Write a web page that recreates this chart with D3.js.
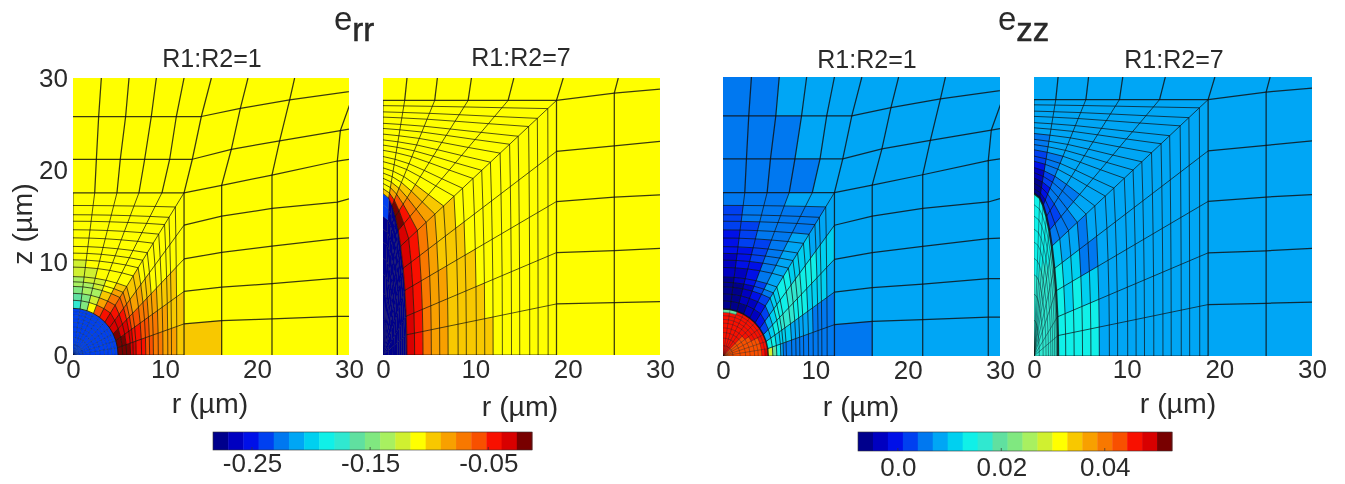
<!DOCTYPE html>
<html><head><meta charset="utf-8">
<script src="https://cdnjs.cloudflare.com/ajax/libs/d3/7.8.5/d3.min.js"></script>
<style>
html,body{margin:0;padding:0;background:#fff}
svg{display:block;filter:blur(0.6px)}
text{font-family:"Liberation Sans",Arial,sans-serif;fill:#2a2a2a}
</style></head><body><svg id="c" width="1345" height="484"></svg>
<script>
// ---------- colour bands ----------
const jetBands=["#00008c","#0000c0","#0010e8","#0040f0","#0078f0","#00a6f5","#00d0f0","#10f0e8","#30e8d0","#60e0a0","#80e880","#a8f060","#d0f030","#ffff00","#f8c800","#f8a000","#f87800","#f85000","#f81000","#d80000","#780000"];
const errDomain=[-0.283,-0.013];
const ezzDomain=[-0.0077,0.053];
const errTicks=[-0.25,-0.15,-0.05];
const ezzTicks=[0.0,0.02,0.04];
const errTickLabels=["-0.25","-0.15","-0.05"];
const ezzTickLabels=["0.0","0.02","0.04"];
const axisTicks=[0,10,20,30];
const panelTitles=["R1:R2=1","R1:R2=7","R1:R2=1","R1:R2=7"];

// ---------- mesh R1:R2=1 (µm) ----------
const m1Semi=[4.9,5.05];
const m1ArcDeg=[0,9,18,27,36,45,54,63,72,81,90];
const m1RingFrac=[0,.07,.13,.19,.23,.275,.357,.42,.478,.536,.61,.68,.754,.81,.89,1];
const m1Square=[[12.07,0],[12.07,3.37],[12.07,6.88],[12.07,10.4],[12.07,14.06],[12.07,17.57],[9.67,17.57],[7.17,17.57],[4.78,17.57],[2.36,17.57],[0,17.57]];
// columns of nodes right of the block, bottom to top
const m1Right=[
 [[12.07,0],[12.07,3.37],[12.07,6.88],[12.07,10.4],[12.07,14.06],[12.07,17.57],[12.97,21.2],[13.95,25.83],[15.04,30]],
 [[16.16,0],[16.16,3.73],[16.16,7.36],[16.16,11.12],[16.16,15.04],[16.16,18.37],[17.21,22.28],[18.19,26.7],[19.02,30]],
 [[21.63,0],[21.63,3.91],[21.63,7.72],[21.63,11.78],[21.63,15.87],[21.63,19.49],[22.46,23.19],[23.55,27.64],[24.09,30]],
 [[28.73,0],[28.73,4.17],[28.73,8.33],[28.73,12.61],[28.73,16.56],[28.73,21.01],[29.06,24.3],[30.62,28.62],[31.2,30.6]],
 [[30,0],[30,4.17],[30,8.33],[30,12.68],[30,16.92],[30,21.2],[30,24.46],[30,28.73],[31.2,30.6]]
];
// columns of nodes above the block, left to right
const m1Top=[
 [[0,17.57],[0,21.2],[0,25.83],[0,30]],
 [[2.36,17.57],[2.54,21.2],[2.79,25.83],[3.08,30]],
 [[4.78,17.57],[5.14,21.2],[5.72,25.83],[6.09,30]],
 [[7.17,17.57],[7.79,21.2],[8.51,25.83],[9.06,30]],
 [[9.67,17.57],[10.51,21.2],[11.23,25.83],[12.07,30]],
 [[12.07,17.57],[12.97,21.2],[13.95,25.83],[15.04,30]]
];

// ---------- mesh R1:R2=7 (µm) ----------
const m2Semi=[2.6,17.5];
const m2ArcDeg=[0,7.2,13.9,23.6,32.5,42.4,50.5,59,67.8,76.3,90];
const m2RingFrac=[0,.051,.107,.163,.219,.275,.342,.397,.464,.52,.576,.638,.699,.754,.821,.877,.944,1];
const m2Square=[[18.79,0],[18.79,5.53],[18.79,11.09],[18.79,16.62],[18.79,22.05],[18.79,27.57],[13.55,27.57],[9.22,27.57],[5.6,27.57],[2.35,27.57],[0,27.57]];
const m2Right=[
 [[18.79,0],[18.79,5.53],[18.79,11.09],[18.79,16.62],[18.79,22.05],[18.79,27.57],[19.52,30]],
 [[25.05,0],[25.05,5.67],[25.05,11.31],[25.05,17.09],[25.05,22.66],[25.05,28.37],[25.48,30]],
 [[30,0],[30,5.78],[30,11.56],[30,17.35],[30,23.13],[30,28.8],[30,30]]
];
const m2Top=[
 [[0,27.57],[0,30]],
 [[2.35,27.57],[2.6,30]],
 [[5.6,27.57],[5.89,30]],
 [[9.22,27.57],[9.58,30]],
 [[13.55,27.57],[14.17,30]],
 [[18.79,27.57],[19.52,30]]
];
const innerFrac=[0,.22,.38,.5,.6,.7,.78,.86,.93,1];

// ---------- strain values per cell (rows = wedge, bottom to top; columns = ring outward) ----------
const errA={background:-.109,inner:-.238,innerCells:[],
 wedge:[
 [-.019,-.019,-.019,-.032,-.032,-.045,-.045,-.058,-.058,-.071,-.071,-.084,-.084,-.084,-.096],
 [-.019,-.019,-.032,-.032,-.045,-.045,-.058,-.058,-.071,-.071,-.084,-.084,-.096,-.096,-.096],
 [-.019,-.032,-.032,-.045,-.058,-.058,-.071,-.071,-.084,-.084,-.096,-.096,-.096,-.096,-.109],
 [-.032,-.032,-.045,-.058,-.071,-.084,-.084,-.096,-.096,-.109],
 [-.032,-.045,-.058,-.071,-.084,-.096,-.096,-.109],
 [-.045,-.058,-.071,-.084,-.096,-.109],
 [-.058,-.084,-.096,-.109],
 [-.109,-.122,-.135,-.122,-.122,-.109],
 [-.148,-.148,-.135,-.135,-.122,-.122,-.109],
 [-.174,-.161,-.148,-.135,-.135,-.122,-.122,-.109]],
 right:[[-.096]],top:[]};
const errB={background:-.109,inner:-.277,
 innerCells:[[],[],[],[],[],[],[],[],[],[-.277,-.277,-.277,-.277,-.277,-.277,-.277,-.238,-.238]],
 wedge:[
 [-.032,-.045,-.071,-.084,-.084,-.096,-.096,-.096,-.096,-.096],
 [-.032,-.045,-.071,-.084,-.084,-.096,-.096,-.096,-.096],
 [-.032,-.045,-.071,-.084,-.084,-.096,-.096,-.096],
 [-.032,-.045,-.071,-.084,-.096,-.096,-.096],
 [-.032,-.045,-.071,-.084,-.096,-.096],
 [-.032,-.045,-.071,-.084,-.096],
 [-.019,-.045,-.071,-.084,-.096],
 [-.019,-.058,-.084,-.096],
 [-.045,-.084,-.096],
 [-.096]],
 right:[],top:[]};
const ezzC={background:.008,inner:.046,
 innerCells:[
 [.043,.043,.043,.043,.043,.043,.043,.046,.049],
 [.043,.043,.043,.043,.043,.043,.043,.046,.046],
 [.043,.043,.043,.043,.043,.043,.043,.046,.046],
 [.043,.043,.043,.043,.043,.046,.046,.046,.046],
 [.043,.043,.043,.043,.046,.046,.046,.046,.046],
 [],[],[],
 [.046,.046,.046,.046,.046,.046,.046,.046,.02],
 [.046,.046,.046,.046,.046,.046,.046,.046,.02]],
 wedge:[
 [.028,.02,.014,.008,.005,.005,.005,.005,.005,.005,.005,.005,.005,.005,.005],
 [.014,.014,.011,.011,.011,.011,.008,.008,.008,.008,.008,.005,.005,.005,.005],
 [.008,.011,.014,.014,.017,.017,.017,.014,.014,.014,.011,.011,.011,.011,.008],
 [.003,.008,.011,.014,.014,.014,.017,.017,.017,.014,.014,.014,.011,.011,.011],
 [0,.003,.008,.011,.011,.014,.014,.011,.011,.011,.011,.008,.008,.008,.008],
 [-.003,0,.003,.005,.008,.008,.008,.008,.008,.008,.008,.005,.005,.005,.008],
 [-.003,-.003,0,.003,.003,.005,.005,.005,.005,.005,.005,.005,.005,.005,.008],
 [-.006,-.003,-.003,-.003,0,0,0,.003,.003,.003,.005,.005,.005,.005,.005],
 [-.006,-.006,-.006,-.006,-.003,-.003,0,0,0,.003,.003,.003,.005,.005,.005],
 [-.006,-.006,-.006,-.006,-.006,-.003,-.003,-.003,0,0,0,.003,.003,.003,.005]],
 right:[[.005]],
 top:[[.005,.005,.005,.005,.008],[.005,.005,.005,.008,.008],[.005,.005,.008,.008,.008]]};
const ezzD={background:.008,inner:.017,
 innerCells:[[],[],[],[],[],[.017,.017,.017,.017,.017,.017,.014,.014,.014],[.017,.017,.017,.017,.017,.014,.014,.014,.014],[.017,.017,.017,.017,.014,.014,.014,.014,.014],[.017,.017,.017,.014,.014,.014,.014,.014,.014],[.017,.017,.017,.014,.014,.014,.014,.014,.014]],
 wedge:[
 [.014,.014,.014,.014,.014,.008],
 [.014,.014,.014,.014,.014,.008],
 [.014,.011,.014,.011,.011],
 [.014,.011,.011,.005,.005,.008],
 [.011,.008,.008,.005,.008],
 [.005,.005,.005,.008],
 [.003,.003,.005,.005,.005],
 [.003,.003,.005,.005,.005],
 [-.003,0,0,.003,.003,.005,.005,.005],
 [-.006,-.006,-.006,-.003,-.003,0,.003,.003,.005,.005,.005]],
 right:[],top:[]};

// ---------- drawing ----------
const svg=d3.select("#c");
const mesh1={semi:m1Semi,arc:m1ArcDeg,rings:m1RingFrac,square:m1Square,right:m1Right,top:m1Top};
const mesh2={semi:m2Semi,arc:m2ArcDeg,rings:m2RingFrac,square:m2Square,right:m2Right,top:m2Top};
const errColor=d3.scaleQuantize().domain(errDomain).range(jetBands);
const ezzColor=d3.scaleQuantize().domain(ezzDomain).range(jetBands);

const panels=[
 {id:"a",mesh:mesh1,cells:errA,color:errColor,x:[73,349],y:[355,78],title:0,tx:212,ty:67,lx:210,ly:413,xAxisY:358,arcW:1,innerW:.45,innerOp:.45},
 {id:"b",mesh:mesh2,cells:errB,color:errColor,x:[383,660],y:[355,78],title:1,tx:521,ty:66,lx:520,ly:416,xAxisY:358,arcW:.7,innerW:.25,innerOp:.1},
 {id:"c",mesh:mesh1,cells:ezzC,color:ezzColor,x:[723,1000],y:[356,77],title:2,tx:867,ty:68,lx:861,ly:416,xAxisY:359,arcW:1.5,innerW:.5,innerOp:.6},
 {id:"d",mesh:mesh2,cells:ezzD,color:ezzColor,x:[1034,1312],y:[356,77],title:3,tx:1174,ty:68,lx:1178,ly:413,xAxisY:358,arcW:2.2,innerW:.6,innerOp:.7}
];
const rad=d=>d*Math.PI/180;
const lerp=(a,b,f)=>[a[0]+(b[0]-a[0])*f,a[1]+(b[1]-a[1])*f];

panels.forEach(p=>{
 const X=d3.scaleLinear().domain([0,30]).range(p.x);
 const Y=d3.scaleLinear().domain([0,30]).range(p.y);
 const path=d3.line().x(d=>X(d[0])).y(d=>Y(d[1]));
 const m=p.mesh;
 const arcNode=m.arc.map(t=>[m.semi[0]*Math.cos(rad(t)),m.semi[1]*Math.sin(rad(t))]);
 const node=(s,f)=>lerp(arcNode[s],m.square[s],f);
 const inner=(s,f)=>[arcNode[s][0]*f,arcNode[s][1]*f];
 const clipId="clip-"+p.id;
 svg.append("clipPath").attr("id",clipId).append("rect")
   .attr("x",p.x[0]).attr("y",p.y[1]).attr("width",p.x[1]-p.x[0]).attr("height",p.y[0]-p.y[1]);
 const g=svg.append("g").attr("clip-path",`url(#${clipId})`);
 g.append("rect").attr("x",p.x[0]).attr("y",p.y[1]).attr("width",p.x[1]-p.x[0]).attr("height",p.y[0]-p.y[1])
   .attr("fill",p.color(p.cells.background));

 // coloured cells
 const cells=[];
 d3.range(m.arc.length-1).forEach(s=>{
   d3.range(innerFrac.length-1).forEach(i=>{
     const row=p.cells.innerCells[s]||[];
     const v=row[i]!==undefined?row[i]:p.cells.inner;
     cells.push({v,pts:[inner(s,innerFrac[i]),inner(s,innerFrac[i+1]),inner(s+1,innerFrac[i+1]),inner(s+1,innerFrac[i])]});
   });
   d3.range(m.rings.length-1).forEach(i=>{
     const v=p.cells.wedge[s][i];
     if(v===undefined) return;
     cells.push({v,pts:[node(s,m.rings[i]),node(s,m.rings[i+1]),node(s+1,m.rings[i+1]),node(s+1,m.rings[i])]});
   });
 });
 p.cells.right.forEach((row,j)=>row.forEach((v,c)=>{
   cells.push({v,pts:[m.right[c][j],m.right[c+1][j],m.right[c+1][j+1],m.right[c][j+1]]});
 }));
 p.cells.top.forEach((row,j)=>row.forEach((v,c)=>{
   cells.push({v,pts:[m.top[c][j],m.top[c+1][j],m.top[c+1][j+1],m.top[c][j+1]]});
 }));
 g.selectAll("path.cell").data(cells).join("path").attr("class","cell")
   .attr("d",d=>path(d.pts)+"Z").attr("fill",d=>p.color(d.v)).attr("stroke",d=>p.color(d.v)).attr("stroke-width",.3);

 // mesh lines
 const lines=g.append("g").attr("fill","none").attr("stroke","#101010");
 const innerL=lines.append("g").attr("stroke-width",p.innerW).attr("stroke-opacity",p.innerOp);
 innerFrac.slice(1,-1).forEach(f=>innerL.append("path").attr("d",path(m.arc.map((_,s)=>inner(s,f)))));
 m.arc.forEach((_,s)=>innerL.append("path").attr("d",path([[0,0],arcNode[s]])));
 const wedgeL=lines.append("g").attr("stroke-width",.95).attr("stroke-opacity",.75);
 m.rings.slice(1,-1).forEach(f=>wedgeL.append("path").attr("d",path(m.arc.map((_,s)=>node(s,f)))));
 m.arc.forEach((_,s)=>wedgeL.append("path").attr("d",path([arcNode[s],m.square[s]])));
 const outerL=lines.append("g").attr("stroke-width",1.25).attr("stroke-opacity",.82);
 m.right.slice(0,-1).forEach(col=>outerL.append("path").attr("d",path(col)));
 d3.range(1,m.right[0].length-1).forEach(j=>outerL.append("path").attr("d",path(m.right.map(c=>c[j]))));
 m.top.slice(1,-1).forEach(col=>outerL.append("path").attr("d",path(col)));
 d3.range(0,m.top[0].length-1).forEach(j=>outerL.append("path").attr("d",path(m.top.map(c=>c[j]))));
 lines.append("path").attr("d",path(arcNode)).attr("stroke-width",p.arcW).attr("stroke-opacity",.85);

 // axes
 const ax=svg.append("g").attr("transform",`translate(0,${p.xAxisY})`)
   .call(d3.axisBottom(X).tickValues(axisTicks).tickSize(0).tickPadding(2).tickFormat(d3.format("d")));
 ax.select(".domain").remove();
 ax.selectAll("text").style("font-size","26px").attr("dy","0.71em");
 svg.append("text").attr("x",p.lx).attr("y",p.ly).attr("text-anchor","middle").style("font-size","28.5px").text("r (µm)");
 svg.append("text").attr("x",p.tx).attr("y",p.ty).attr("text-anchor","middle").style("font-size","25px").text(panelTitles[p.title]);
 if(p.id==="a"){
   const ay=svg.append("g").attr("transform",`translate(${p.x[0]-3},0)`)
     .call(d3.axisLeft(Y).tickValues(axisTicks).tickSize(0).tickPadding(2).tickFormat(d3.format("d")));
   ay.select(".domain").remove();
   ay.selectAll("text").style("font-size","26px");
   svg.append("text").attr("transform","translate(32,224) rotate(-90)").attr("text-anchor","middle")
     .style("font-size","28.5px").text("z (µm)");
 }
});

// big titles
[["e","rr",334],["e","zz",998]].forEach(t=>{
 svg.append("text").attr("x",t[2]).attr("y",30).style("font-size","33px")
   .text(t[0]).append("tspan").attr("dy",11).style("stroke","#2a2a2a").style("stroke-width",.5).text(t[1]);
});

// colour bars
function colorBar(color,x0,x1,yTop,h,ticks,labels,base){
 const S=d3.scaleLinear().domain(color.domain()).range([x0,x1]);
 const g=svg.append("g");
 g.selectAll("rect").data(color.range()).join("rect")
  .attr("x",c=>S(color.invertExtent(c)[0])).attr("y",yTop)
  .attr("width",c=>S(color.invertExtent(c)[1])-S(color.invertExtent(c)[0])+.4).attr("height",h).attr("fill",c=>c);
 g.append("rect").attr("x",x0).attr("y",yTop).attr("width",x1-x0).attr("height",h).attr("fill","none").attr("stroke","#333").attr("stroke-width",.6);
 const ax=svg.append("g").attr("transform",`translate(0,${yTop+h})`)
  .call(d3.axisBottom(S).tickValues(ticks).tickSize(0).tickPadding(base).tickFormat((d,i)=>labels[i]));
 ax.select(".domain").remove();
 ax.selectAll("text").style("font-size","26px").attr("dy","0.71em");
 g.selectAll("line").data(ticks).join("line").attr("x1",S).attr("x2",S).attr("y1",yTop+h-3).attr("y2",yTop+h).attr("stroke","#333").attr("stroke-width",.7);
}
colorBar(errColor,213,532,432,18,errTicks,errTickLabels,4);
colorBar(ezzColor,858,1172,432,19,ezzTicks,ezzTickLabels,7);
</script></body></html>
